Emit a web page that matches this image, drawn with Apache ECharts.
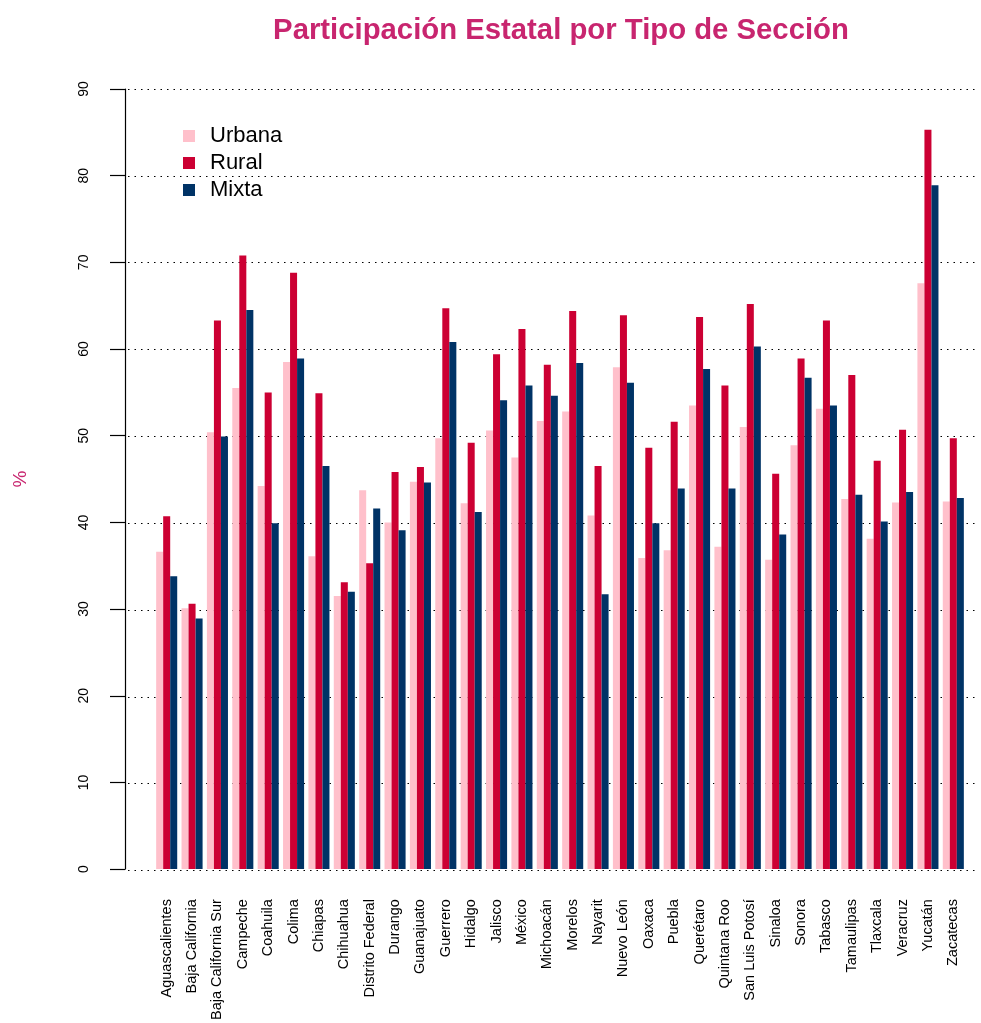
<!DOCTYPE html>
<html>
<head>
<meta charset="UTF-8">
<title>Participación Estatal por Tipo de Sección</title>
<script src="https://cdn.jsdelivr.net/npm/echarts@6/dist/echarts.min.js"></script>
<style>
  html, body { margin: 0; padding: 0; background: #fff; }
  #main { width: 981px; height: 1023px; }
</style>
</head>
<body>
<div id="main"></div>
<script>
// estados
var estados = ['Aguascalientes', 'Baja California', 'Baja California Sur', 'Campeche', 'Coahuila',
  'Colima', 'Chiapas', 'Chihuahua', 'Distrito Federal', 'Durango', 'Guanajuato', 'Guerrero',
  'Hidalgo', 'Jalisco', 'México', 'Michoacán', 'Morelos', 'Nayarit', 'Nuevo León', 'Oaxaca',
  'Puebla', 'Querétaro', 'Quintana Roo', 'San Luis Potosí', 'Sinaloa', 'Sonora', 'Tabasco',
  'Tamaulipas', 'Tlaxcala', 'Veracruz', 'Yucatán', 'Zacatecas'];

var urbana = [36.6, 30.1, 50.4, 55.5, 44.2, 58.5, 36.1, 31.5, 43.7, 40.0, 44.7, 49.7,
  42.2, 50.6, 47.5, 51.7, 52.8, 40.8, 57.9, 35.9, 36.8, 53.5, 37.2, 51.0, 35.7, 48.9, 53.1,
  42.7, 38.1, 42.3, 67.6, 42.4];
var rural = [40.7, 30.6, 63.3, 70.8, 55.0, 68.8, 54.9, 33.1, 35.3, 45.8, 46.4, 64.7,
  49.2, 59.4, 62.3, 58.2, 64.4, 46.5, 63.9, 48.6, 51.6, 63.7, 55.8, 65.2, 45.6, 58.9, 63.3,
  57.0, 47.1, 50.7, 85.3, 49.7];
var mixta = [33.8, 28.9, 49.9, 64.5, 39.9, 58.9, 46.5, 32.0, 41.6, 39.1, 44.6, 60.8,
  41.2, 54.1, 55.8, 54.6, 58.4, 31.7, 56.1, 39.9, 43.9, 57.7, 43.9, 60.3, 38.6, 56.7, 53.5,
  43.2, 40.1, 43.5, 78.9, 42.8];

var yTicks = [0, 10, 20, 30, 40, 50, 60, 70, 80, 90];

var myChart = echarts.init(document.getElementById('main'));
var fuente = 'Liberation Sans, Arial, sans-serif';

myChart.setOption({
  animation: false,
  textStyle: { fontFamily: fuente },
  title: {
    text: 'Participación Estatal por Tipo de Sección',
    left: 556, top: 11, textAlign: 'center',
    textStyle: { color: '#C8256F', fontSize: 29.3, fontWeight: 'bold', fontFamily: fuente }
  },
  legend: {
    orient: 'vertical', left: 183, top: 125, padding: 0,
    itemWidth: 12, itemHeight: 12, itemGap: 5,
    icon: 'rect',
    textStyle: { fontSize: 22, color: '#000', fontFamily: fuente, padding: [0, 0, 0, 10] },
    data: ['Urbana', 'Rural', 'Mixta']
  },
  grid: [
    // solo para las líneas punteadas
    { left: 128, right: 6, top: 89, bottom: 152.5 },
    { left: 154, right: 15, top: 89, bottom: 152.5 }
  ],
  xAxis: [
    { gridIndex: 0, type: 'value', show: false, min: 0, max: 1 },
    {
      gridIndex: 1, type: 'category', data: estados,
      axisLine: { show: false }, axisTick: { show: false },
      axisLabel: { rotate: 90, margin: 30, fontSize: 14.5, color: '#000', interval: 0, fontFamily: fuente }
    }
  ],
  yAxis: [
    {
      gridIndex: 0, type: 'value', min: 0, max: 90, interval: 10,
      axisLine: { show: false }, axisTick: { show: false }, axisLabel: { show: false },
      splitLine: { show: true, lineStyle: { color: '#000', type: [1.5, 5], width: 1.2 } }
    },
    {
      gridIndex: 1, type: 'value', min: yTicks[0], max: yTicks[yTicks.length - 1], interval: 10,
      offset: 29,
      name: '%', nameLocation: 'middle', nameGap: 95, nameRotate: 90,
      nameTextStyle: { color: '#C8256F', fontSize: 19, fontFamily: fuente },
      axisLine: { show: true, lineStyle: { color: '#000', width: 1.2 } },
      axisTick: { show: true, length: 15, lineStyle: { color: '#000', width: 1.2 } },
      axisLabel: { rotate: 90, margin: 34, fontSize: 14, color: '#000', fontFamily: fuente },
      splitLine: { show: false }
    }
  ],
  series: [
    { name: 'Urbana', type: 'bar', xAxisIndex: 1, yAxisIndex: 1, data: urbana,
      itemStyle: { color: '#FFC0CB' }, barGap: '0%', barCategoryGap: '17%' },
    { name: 'Rural', type: 'bar', xAxisIndex: 1, yAxisIndex: 1, data: rural,
      itemStyle: { color: '#CC0033' }, barGap: '0%', barCategoryGap: '17%' },
    { name: 'Mixta', type: 'bar', xAxisIndex: 1, yAxisIndex: 1, data: mixta,
      itemStyle: { color: '#003366' }, barGap: '0%', barCategoryGap: '17%' }
  ]
});
</script>
</body>
</html>
